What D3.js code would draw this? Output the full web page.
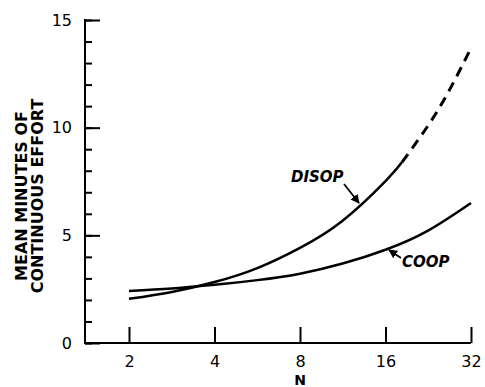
<!DOCTYPE html>
<html>
<head>
  <meta charset="utf-8">
  <script src="https://d3js.org/d3.v7.min.js"></script>
  <style>
    body { margin: 0; background: #fff; }
    text { font-family: "DejaVu Sans", sans-serif; fill: #000; }
  </style>
</head>
<body>
  <div id="chart"></div>
  <script>
    "use strict"

    // valores
    var xTicks = [2, 4, 8, 16, 32];
    var yTicks = [0, 5, 10, 15];
    var disopN = [2, 2.83, 4, 5.66, 8, 11.3, 16, 18.3];
    var disopV = [2.05, 2.37, 2.83, 3.48, 4.42, 5.68, 7.52, 8.4];
    var disopDashN = [18.3, 22.6, 27, 32];
    var disopDashV = [8.4, 10.1, 11.8, 13.7];
    var coopN = [2, 2.83, 4, 5.66, 8, 11.3, 16, 22.6, 32];
    var coopV = [2.42, 2.53, 2.7, 2.92, 3.22, 3.69, 4.33, 5.22, 6.5];

    var largura = 485, altura = 387;

    var svg = d3.select('#chart').append('svg')
      .attr('width', largura)
      .attr('height', altura);

    var x = d3.scaleLog().base(2).domain([2, 32]).range([129, 471]);
    var y = d3.scaleLinear().domain([0, 15]).range([343, 20]);

    // eixos
    var eixoX = svg.append('g')
      .attr('transform', 'translate(0,343)')
      .call(d3.axisTop(x).tickValues(xTicks).tickSize(16).tickFormat(d3.format('d')));
    eixoX.select('.domain').attr('d', 'M85,0H471');
    eixoX.selectAll('path, line').attr('stroke-width', 2);
    eixoX.selectAll('text').attr('y', 13).attr('dy', '0.71em').style('font-size', '16px');

    var eixoYmenor = svg.append('g')
      .attr('transform', 'translate(85,0)')
      .call(d3.axisRight(y).ticks(15).tickSize(7).tickFormat(''));
    eixoYmenor.select('.domain').remove();
    eixoYmenor.selectAll('line').attr('stroke-width', 2);

    var eixoY = svg.append('g')
      .attr('transform', 'translate(85,0)')
      .call(d3.axisRight(y).tickValues(yTicks).tickSize(15));
    eixoY.select('.domain').attr('d', 'M0,19V344');
    eixoY.selectAll('path, line').attr('stroke-width', 2);
    eixoY.selectAll('text').attr('x', -13).attr('text-anchor', 'end').style('font-size', '16px');

    // curvas
    var linha = d3.line()
      .x(function(d) { return x(d[0]); })
      .y(function(d) { return y(d[1]); })
      .curve(d3.curveNatural);

    svg.append('path')
      .attr('d', linha(d3.zip(disopN, disopV)))
      .attr('fill', 'none').attr('stroke', '#000').attr('stroke-width', 2.5);

    svg.append('path')
      .attr('d', linha(d3.zip(disopDashN, disopDashV)))
      .attr('fill', 'none').attr('stroke', '#000').attr('stroke-width', 3)
      .attr('stroke-dasharray', '10,7');

    svg.append('path')
      .attr('d', linha(d3.zip(coopN, coopV)))
      .attr('fill', 'none').attr('stroke', '#000').attr('stroke-width', 2.5);

    // rótulos das curvas
    svg.append('defs').append('marker')
      .attr('id', 'seta').attr('viewBox', '0 0 10 10')
      .attr('refX', 9).attr('refY', 5)
      .attr('markerWidth', 5).attr('markerHeight', 5)
      .attr('orient', 'auto')
      .append('path').attr('d', 'M0,0L10,5L0,10z');

    svg.append('text').text('DISOP')
      .attr('x', 291).attr('y', 182)
      .style('font-size', '15px').style('font-weight', 'bold').style('font-style', 'italic');
    svg.append('line')
      .attr('x1', 344).attr('y1', 184).attr('x2', 359).attr('y2', 203)
      .attr('stroke', '#000').attr('stroke-width', 1.8).attr('marker-end', 'url(#seta)');

    svg.append('text').text('COOP')
      .attr('x', 402).attr('y', 267)
      .style('font-size', '15px').style('font-weight', 'bold').style('font-style', 'italic');
    svg.append('line')
      .attr('x1', 401).attr('y1', 258).attr('x2', 389).attr('y2', 250)
      .attr('stroke', '#000').attr('stroke-width', 1.8).attr('marker-end', 'url(#seta)');

    // títulos dos eixos
    svg.append('text').text('N')
      .attr('x', 300).attr('y', 385)
      .attr('text-anchor', 'middle')
      .style('font-size', '14px').style('font-weight', 'bold');

    var tituloY = svg.append('text')
      .attr('transform', 'translate(27,196) rotate(-90)')
      .attr('text-anchor', 'middle')
      .style('font-size', '16px').style('font-weight', 'bold');
    tituloY.append('tspan').attr('x', 0).attr('dy', 0).text('MEAN MINUTES OF');
    tituloY.append('tspan').attr('x', 0).attr('dy', 16).text('CONTINUOUS EFFORT');
  </script>
</body>
</html>
